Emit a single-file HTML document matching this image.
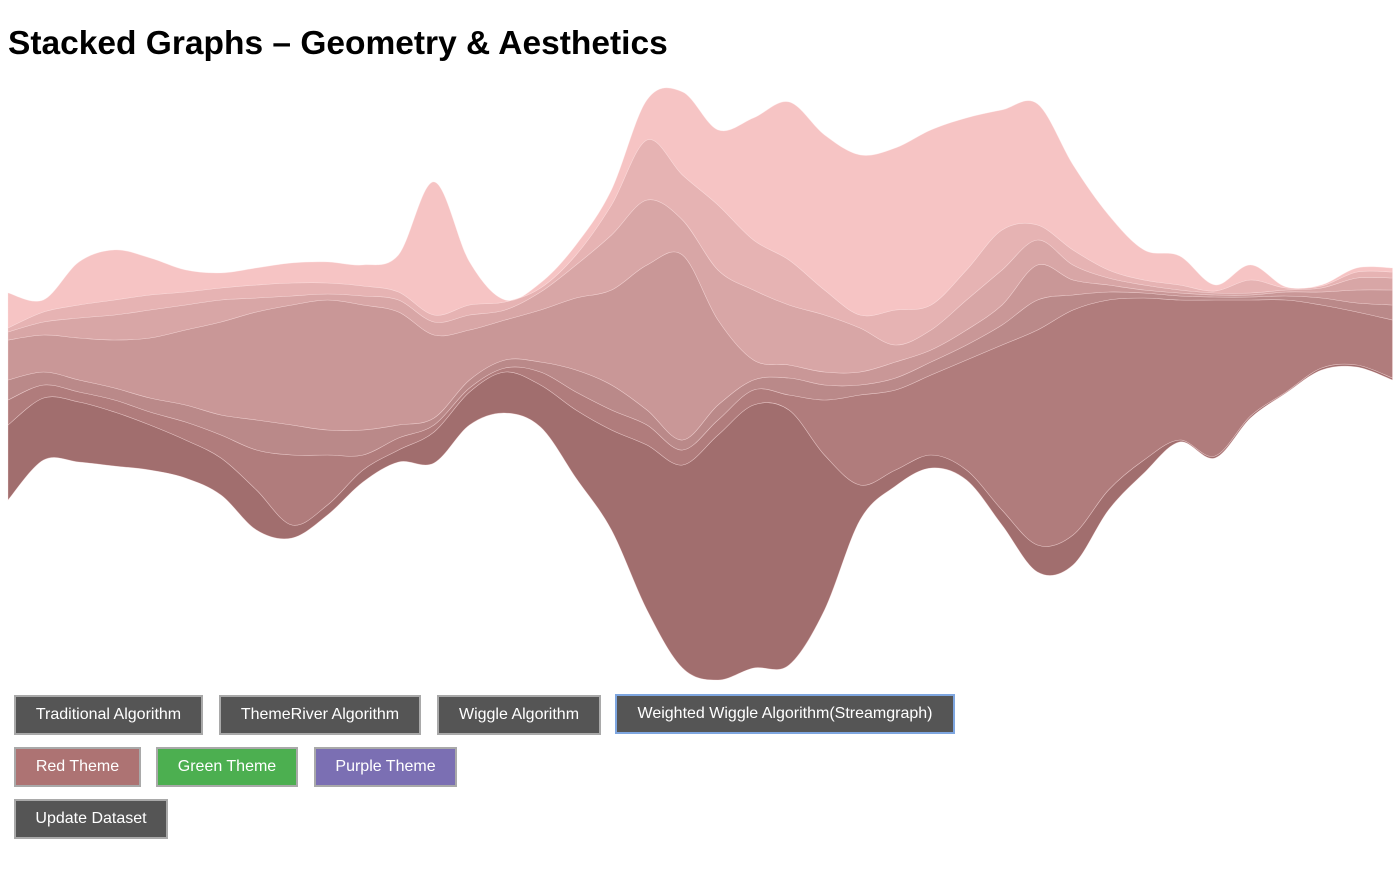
<!DOCTYPE html>
<html><head><meta charset="utf-8"><style>
body{margin:0;background:#fff;font-family:"Liberation Sans",Arial,sans-serif;width:1393px;height:873px;overflow:hidden;position:relative}
h1{position:absolute;left:8px;top:25px;margin:0;font-size:33.5px;font-weight:bold;color:#000;letter-spacing:0px}
svg{position:absolute;left:0;top:0}
.btn{position:absolute;height:40px;box-sizing:border-box;border:2px solid #a9a9a9;background:#555;color:#fff;font-size:16px;font-family:"Liberation Sans",Arial,sans-serif;line-height:36px;text-align:center;padding:0}
</style></head><body>
<h1>Stacked Graphs – Geometry &amp; Aesthetics</h1>
<svg id="chart" width="1393" height="873"></svg>
<button class="btn" style="left:14px;top:695px;width:189px">Traditional Algorithm</button>
<button class="btn" style="left:219px;top:695px;width:202px">ThemeRiver Algorithm</button>
<button class="btn" style="left:437px;top:695px;width:164px">Wiggle Algorithm</button>
<button class="btn" style="left:615px;top:694px;width:340px;border-color:#7ea6e0">Weighted Wiggle Algorithm(Streamgraph)</button>
<button class="btn" style="left:14px;top:747px;width:127px;background:#ad7373">Red Theme</button>
<button class="btn" style="left:156px;top:747px;width:142px;background:#4caf50">Green Theme</button>
<button class="btn" style="left:314px;top:747px;width:143px;background:#7b6fb3">Purple Theme</button>
<button class="btn" style="left:14px;top:799px;width:154px">Update Dataset</button>
<script>
const baseline=[200,240,238,234,230,222,205,170,162,185,218,238,237,275,287,273,222,170,90,32,20,32,35,90,180,214,232,220,175,128,135,190,227,258,242,282,307,330,333,320];
const layer1=[75,62,60,54,45,38,37,40,13,10,12,12,31,33,41,42,68,100,165,203,245,263,255,155,35,16,13,10,15,27,30,20,13,2,2,2,1,2,2,2];
const layer2=[25,13,10,12,13,18,23,40,70,50,15,12,7,4,4,13,18,20,20,15,15,15,15,55,90,80,80,110,165,215,225,190,162,140,156,116,92,63,53,58];
const layer3=[20,13,12,12,14,17,20,30,30,25,25,13,7,8,8,10,22,25,15,10,15,10,17,15,10,12,13,15,20,30,15,8,5,4,3,3,4,7,9,15];
const layer4=[40,37,42,48,60,75,93,108,120,130,125,113,83,50,40,52,72,95,145,185,85,20,13,13,13,16,12,15,20,35,15,7,3,3,2,2,4,6,13,15];
const layer5=[8,13,20,25,28,25,22,14,9,6,9,12,13,15,10,18,33,55,65,35,50,70,60,57,44,17,20,30,35,25,15,7,5,3,2,2,2,4,12,12];
const layer6=[4,10,13,15,15,13,12,13,13,11,10,8,7,10,8,4,10,30,60,45,65,50,45,25,13,35,25,30,40,15,15,8,5,5,2,13,2,2,6,6];
const layer7=[35,12,43,50,37,22,15,17,20,21,21,37,133,43,2,5,10,15,40,83,75,122,158,155,160,162,175,152,120,121,85,55,30,29,6,15,1,1,4,4];
const layers=[layer1,layer2,layer3,layer4,layer5,layer6,layer7];
const colors=["#a16e6e","#b07c7c","#ba8989","#c99797","#d8a6a6","#e6b3b3","#f6c4c4"];
const X0=8,X1=1392.5,N=baseline.length;
const xScale=i=>X0+(X1-X0)*i/(N-1);
const yScale=v=>700-v;
function spline(pts){
  let d="M"+pts[0][0]+","+pts[0][1];
  for(let i=0;i<pts.length-1;i++){
    const p0=pts[Math.max(0,i-1)],p1=pts[i],p2=pts[i+1],p3=pts[Math.min(pts.length-1,i+2)];
    const c1x=p1[0]+(p2[0]-p0[0])/6,c1y=p1[1]+(p2[1]-p0[1])/6;
    const c2x=p2[0]-(p3[0]-p1[0])/6,c2y=p2[1]-(p3[1]-p1[1])/6;
    d+="C"+c1x.toFixed(1)+","+c1y.toFixed(1)+" "+c2x.toFixed(1)+","+c2y.toFixed(1)+" "+p2[0].toFixed(1)+","+p2[1].toFixed(1);
  }
  return d;
}
const svg=document.getElementById("chart");
let lower=baseline.slice();
layers.forEach((L,k)=>{
  const upper=lower.map((v,i)=>v+L[i]);
  const top=upper.map((v,i)=>[xScale(i),yScale(v)]);
  const bot=lower.map((v,i)=>[xScale(i),yScale(v)]).reverse();
  const d=spline(top)+"L"+bot[0][0]+","+bot[0][1]+spline(bot).slice(1).replace(/^[^C]*/,"")+"Z";
  const p=document.createElementNS("http://www.w3.org/2000/svg","path");
  p.setAttribute("d",d);
  p.setAttribute("fill",colors[k]);
  p.setAttribute("stroke","rgba(255,230,230,0.5)");
  p.setAttribute("stroke-width","0.6");
  
  
  svg.appendChild(p);
  lower=upper;
});
</script>
</body></html>
